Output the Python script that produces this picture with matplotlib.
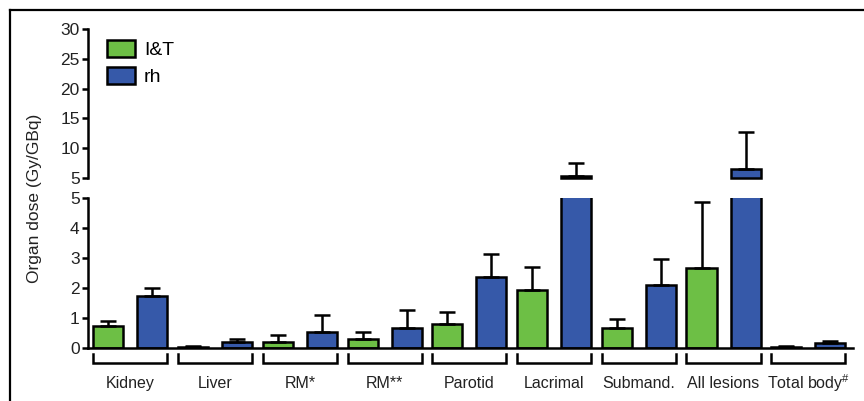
import matplotlib.pyplot as plt
import numpy as np
from matplotlib import transforms

plt.rcParams['font.family'] = ['Liberation Sans', 'DejaVu Sans']
plt.rcParams['mathtext.fontset'] = 'custom'
plt.rcParams['mathtext.rm'] = 'Liberation Sans'
plt.rcParams['mathtext.it'] = 'Liberation Sans'

organs = ['Kidney', 'Liver', 'RM*', 'RM**', 'Parotid', 'Lacrimal', 'Submand.', 'All lesions',
          r'Total body$^{\#}$']
it_mean = [0.74, 0.04, 0.21, 0.29, 0.80, 1.93, 0.68, 2.66, 0.04]
it_err = [0.17, 0.03, 0.21, 0.25, 0.39, 0.78, 0.29, 2.22, 0.03]
rh_mean = [1.73, 0.19, 0.54, 0.66, 2.38, 5.3, 2.10, 6.5, 0.17]
rh_err = [0.28, 0.10, 0.56, 0.61, 0.74, 2.2, 0.86, 6.3, 0.06]
series = ['I&T', 'rh']

green = '#6dbf45'
blue = '#3659a9'
lw = 1.8

x = np.arange(len(organs))
off = 0.26
w = 0.355

fig = plt.figure(figsize=(8.64, 4.01), dpi=100)
# upper part of the broken axis: 5..30, lower part: 0..5
ax_top = fig.add_axes([0.1019, 0.5561, 0.8851, 0.3716])
ax_bot = fig.add_axes([0.1019, 0.1322, 0.8851, 0.3741])

for ax in (ax_top, ax_bot):
    ax.set_xlim(-0.5, 8.525)
    ax.spines['top'].set_visible(False)
    ax.spines['right'].set_visible(False)
    ax.spines['left'].set_linewidth(lw)
    ax.spines['bottom'].set_linewidth(lw)
    ax.tick_params(axis='y', length=4.5, width=lw, labelsize=12.5, pad=1.5, labelcolor='#222222')
    ax.set_xticks([])

ax_top.spines['bottom'].set_visible(False)
ax_top.set_ylim(5, 30)
ax_top.set_yticks([5, 10, 15, 20, 25, 30])
ax_bot.set_ylim(0, 5)
ax_bot.set_yticks([0, 1, 2, 3, 4, 5])

err_kw = dict(fmt='none', ecolor='black', elinewidth=lw, capsize=5.5, capthick=lw, zorder=3)

# lower panel: every bar, tall ones simply get clipped at 5
for pos, mean, err, col, lab in ((x - off, it_mean, it_err, green, series[0]),
                                 (x + off, rh_mean, rh_err, blue, series[1])):
    ax_bot.bar(pos, mean, w, color=col, edgecolor='black', linewidth=lw, label=lab, zorder=2)
    ax_bot.errorbar(pos, mean, yerr=[np.zeros(len(mean)), err], **err_kw)

    # upper panel: only the part above 5
    mean = np.array(mean)
    err = np.array(err)
    big = mean > 5
    if big.any():
        ax_top.bar(pos[big], mean[big] - 5, w, bottom=5, color=col, edgecolor='black',
                   linewidth=lw, zorder=2, clip_on=False)
        ax_top.errorbar(pos[big], mean[big], yerr=[np.zeros(big.sum()), err[big]], **err_kw)

# group brackets and labels under the x axis
trans = transforms.blended_transform_factory(ax_bot.transData, ax_bot.transAxes)
for i, name in enumerate(organs):
    x0 = x[i] - off - w / 2
    x1 = x[i] + off + w / 2
    ax_bot.plot([x0, x0, x1, x1], [-0.04, -0.1, -0.1, -0.04], color='black', lw=lw,
                transform=trans, clip_on=False, solid_joinstyle='miter')
    ax_bot.text(x[i], -0.235, name, transform=trans, ha='center', va='center', fontsize=11.5,
                color='#222222')

handles, labels = ax_bot.get_legend_handles_labels()
fig.legend(handles, labels, loc='upper left', bbox_to_anchor=(107 / 864, 1 - 40 / 401),
           frameon=False, fontsize=14, handlelength=1.45, handleheight=0.95,
           handletextpad=0.45, labelspacing=0.4, borderpad=0, borderaxespad=0)

fig.text(35 / 864, 1 - 198 / 401, 'Organ dose (Gy/GBq)', rotation=90, ha='center', va='center',
         fontsize=12.5, color='#222222')

# frame lines along top and left edge
fig.add_artist(plt.Line2D([10 / 864, 1], [1 - 10 / 401, 1 - 10 / 401], color='black', lw=1.6))
fig.add_artist(plt.Line2D([10 / 864, 10 / 864], [0, 1 - 10 / 401], color='black', lw=1.6))

plt.savefig('out.png', dpi=100)
